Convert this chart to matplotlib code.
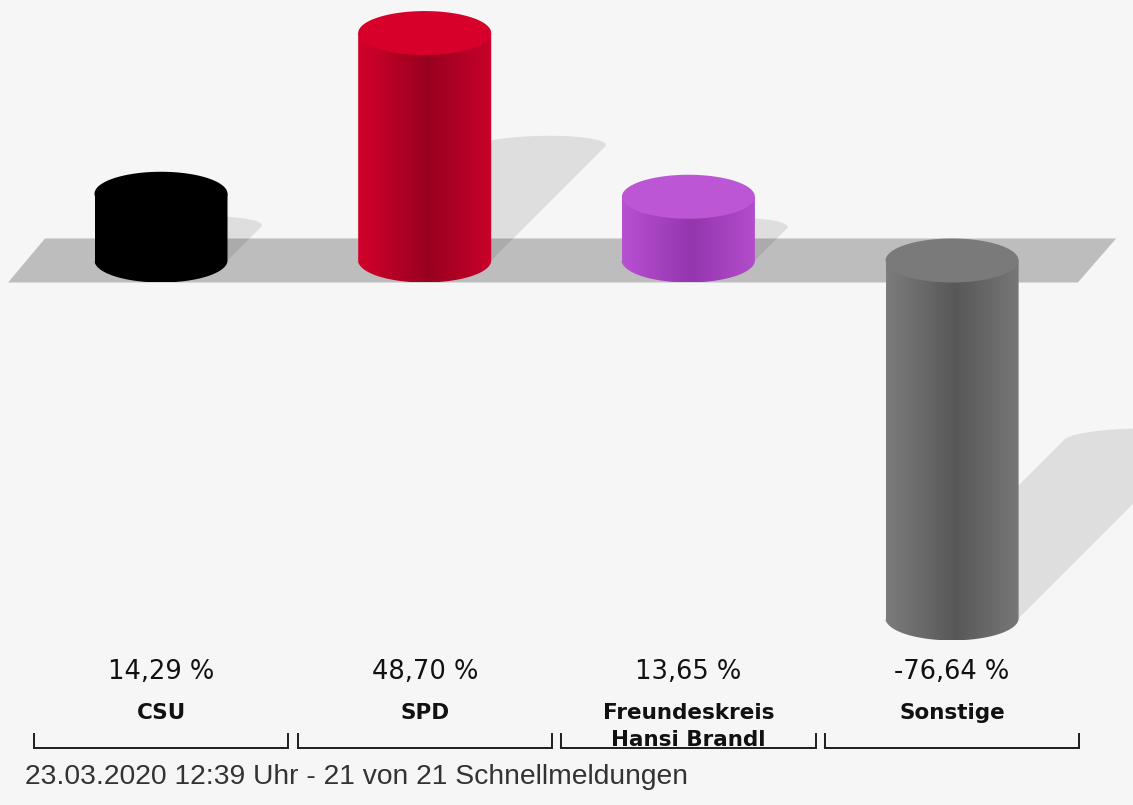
import numpy as np
import matplotlib.pyplot as plt
from matplotlib.patches import Polygon
from matplotlib.colors import LinearSegmentedColormap

parties = ['CSU', 'SPD', 'Freundeskreis\nHansi Brandl', 'Sonstige']
values = [14.29, 48.70, 13.65, -76.64]
value_labels = ['14,29 %', '48,70 %', '13,65 %', '-76,64 %']
body_colors = [('#000000', '#000000', '#000000'),
               ('#d3002b', '#98001f', '#c9002a'),
               ('#b850d2', '#9436ae', '#b24ccb'),
               ('#7c7c7c', '#585858', '#787878')]
cap_colors = ['#000000', '#d6002a', '#bc56d5', '#7a7a7a']
footer = '23.03.2020 12:39 Uhr - 21 von 21 Schnellmeldungen'

plt.rcParams['font.family'] = ['Liberation Sans', 'DejaVu Sans']

W, H = 1133, 805
bg = '#f6f6f6'
fig = plt.figure(figsize=(W / 100, H / 100), dpi=100, facecolor=bg)
ax = fig.add_axes([0, 0, 1, 1])
ax.set_facecolor(bg)
ax.axis('off')

# pixel scale of the chart
px_x = 263.7          # px per category step
px_v = 4.67           # px per percent
x0, y0 = 161, 260.5   # pixel pos of first category at 0 %
hw = 66.5 / px_x      # half width of a cylinder
eh = 22 / px_v        # half height of the ellipses
shear = 0.5 * px_v / px_x


def v_at(ypix):
    return (y0 - ypix) / px_v


def half_ellipse(xc, vc, lower=True, n=80):
    th = np.linspace(np.pi, 2 * np.pi, n) if lower else np.linspace(0, np.pi, n)
    return xc + hw * np.cos(th), vc + eh * np.sin(th)


# base plane
n = len(values)
plane_x = [-0.58, n - 1 + 0.477, n - 1 + 0.477 + 0.145, -0.58 + 0.14]
plane_v = [-eh, -eh, eh, eh]
ax.add_patch(Polygon(np.column_stack([plane_x, plane_v]), closed=True,
                     facecolor='#bdbdbd', edgecolor='none', zorder=1))

for i, v in enumerate(values):
    lo, hi = min(0, v), max(0, v)

    # outline of the cylinder
    bx, bv = half_ellipse(i, lo, lower=True)
    tx, tv = half_ellipse(i, hi, lower=False)
    sx = np.concatenate([bx, tx])
    sv = np.concatenate([bv, tv])

    # shadow: sheared copy anchored at the lower end
    t = sv - lo
    ax.add_patch(Polygon(np.column_stack([sx + shear * t, lo + 0.5 * t]),
                         closed=True, facecolor='black', alpha=0.095,
                         edgecolor='none', zorder=2))

    # body with horizontal shading
    body = Polygon(np.column_stack([np.concatenate([bx, [i + hw, i - hw]]),
                                    np.concatenate([bv, [hi, hi]])]),
                   closed=True, facecolor='none', edgecolor='none', zorder=3)
    ax.add_patch(body)
    cmap = LinearSegmentedColormap.from_list(
        'c%d' % i, [(0, body_colors[i][0]), (0.52, body_colors[i][1]),
                    (1, body_colors[i][2])])
    im = ax.imshow(np.linspace(0, 1, 256).reshape(1, -1), cmap=cmap,
                   extent=(i - hw, i + hw, lo - eh, hi), aspect='auto',
                   interpolation='bilinear', zorder=3)
    im.set_clip_path(body)

    # cap
    cx, cv = half_ellipse(i, hi, lower=True)
    ax.add_patch(Polygon(np.column_stack([np.concatenate([cx, tx]),
                                          np.concatenate([cv, tv])]),
                         closed=True, facecolor=cap_colors[i],
                         edgecolor='none', zorder=4))

    # labels
    ax.text(i, v_at(672), value_labels[i], ha='center', va='center',
            fontsize=18.5, color='#111111', family='DejaVu Sans')
    for k, line in enumerate(parties[i].split('\n')):
        ax.text(i, v_at(713 + 27 * k), line, ha='center', va='center',
                fontsize=15.5, fontweight='bold', color='#111111',
                family='DejaVu Sans')

    # bracket
    ax.plot([i - 0.482, i - 0.482, i + 0.482, i + 0.482],
            [v_at(734), v_at(748), v_at(748), v_at(734)],
            color='#1e1e1e', lw=1.4, zorder=5, solid_joinstyle='miter')

ax.set_xlim(-x0 / px_x, (W - x0) / px_x)
ax.set_ylim((y0 - H) / px_v, y0 / px_v)

fig.text(25 / W, 1 - 777 / H, footer, ha='left', va='center',
         fontsize=20.3, color='#333333')

fig.savefig('out.png', dpi=100, facecolor=bg)
